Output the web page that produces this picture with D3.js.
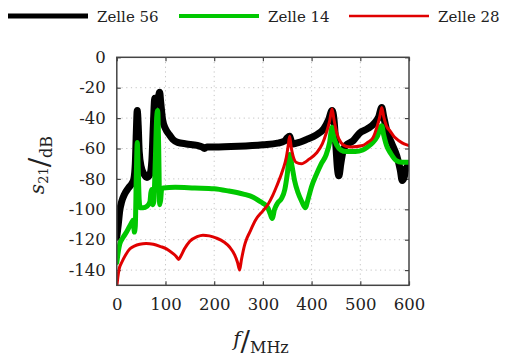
<!DOCTYPE html>
<html>
<head>
<meta charset="utf-8">
<script src="https://cdn.jsdelivr.net/npm/d3@7"></script>
<style>
  html, body { margin: 0; padding: 0; background: #fff; }
  svg { display: block; }
  svg text { font-family: "DejaVu Serif", serif; fill: #222; }
</style>
</head>
<body>
<svg id="chart" width="505" height="359"></svg>
<script>
// ---- data ----
const seriesNames = ["Zelle 56", "Zelle 14", "Zelle 28"];
const seriesColors = ["#000000", "#00c800", "#e00000"];

const freq56 = [0,3,6,10,16,24,31,35,38,40,42,44,46,50,56,62,68,72,75,78,82,85,88,90,94,100,108,115,125,143,165,175,180,185,200,250,300,330,345,350,355,358,362,369,390,410,425,435,442,446,450,453,456,460,465,470,485,498,515,530,538,544,548,555,565,575,582,586,590,594,600];
const val56  = [-118,-110,-101,-95,-90,-86,-83,-80,-70,-50,-35,-45,-62,-72,-77,-79,-77,-68,-45,-27,-30,-27,-23,-29,-41,-47,-51,-54,-56,-57,-58,-59,-60,-59,-59,-58.5,-57.5,-56.5,-55,-53,-52,-55,-57,-56.5,-54,-51,-47,-41,-35,-41,-59,-73,-78,-70,-61,-58,-55,-50,-47,-43,-39,-33,-39,-49,-57,-65,-74,-81,-79,-73,-71];

const freq14 = [0,3,6,12,20,30,34,36,38,40,42,44,46,48,54,62,68,70,72,74,76,79,82,84,86,88,90,92,95,120,160,200,230,260,280,295,300,310,315,319,324,330,338,345,350,355,360,365,372,380,387,393,400,410,420,430,437,442,446,452,460,471,490,505,515,526,535,544,548,555,562,574,585,600];
const val14  = [-135,-128,-123,-119,-115,-109,-107,-115,-111,-79,-56,-74,-94,-99,-99,-98,-95,-89,-87,-97,-95,-69,-39,-35,-59,-97,-94,-87,-86,-85.5,-86,-86.5,-88,-90,-92,-95,-96,-99,-103,-106,-100,-96,-93,-87,-77,-64,-72,-81,-89,-95,-99,-93,-85,-77,-70,-64,-56,-46,-53,-58,-61,-62,-62,-61,-59,-56,-52,-45,-51,-59,-63,-68,-69,-69];

const freq28 = [0,2,5,10,18,27,37,47,60,75,90,102,115,122,127,131,139,150,165,177,190,205,220,232,242,248,252,256,262,266,273,285,300,310,320,328,341,348,352,355,358,362,368,379,395,410,422,430,437,442,446,452,460,470,480,505,515,526,535,540,544,548,555,560,570,580,590,600];
const val28  = [-151,-145,-139,-135,-130,-126,-124,-123,-122.5,-123,-124.5,-126,-129,-131,-133,-131,-126,-121,-118,-117,-117.5,-119,-121.5,-125,-130,-135,-140,-133,-124,-120,-115,-107,-101,-97,-91,-85,-74,-66,-58,-52,-59,-65,-69,-70,-67,-63,-57,-50,-42,-34,-41,-50,-56,-58.5,-59,-58,-56,-53,-45,-39,-33,-39,-46,-48,-52.5,-55,-57,-58];

const xTicks = [0,100,200,300,400,500,600];
const yTicks = [0,-20,-40,-60,-80,-100,-120,-140];

// ---- layout ----
const FONT = "'DejaVu Serif', serif";
const svg = d3.select("#chart");
const L = 116.8, R = 409, T = 57.3, B = 285.3;
const x = d3.scaleLinear().domain([0, 600]).range([L, R]);
const y = d3.scaleLinear().domain([-150, 0]).range([B, T]);

svg.append("defs").append("clipPath").attr("id", "clip")
  .append("rect").attr("x", L).attr("y", T).attr("width", R - L).attr("height", B - T);

// grid
const grid = svg.append("g");
grid.selectAll(".gx").data(xTicks.slice(1, -1)).enter().append("line")
  .attr("x1", d => x(d)).attr("x2", d => x(d)).attr("y1", T).attr("y2", B)
  .attr("stroke", "#c4c4c4").attr("stroke-width", 1).attr("stroke-dasharray", "1.2,3.5");
grid.selectAll(".gy").data(yTicks.slice(1)).enter().append("line")
  .attr("x1", L).attr("x2", R).attr("y1", d => y(d)).attr("y2", d => y(d))
  .attr("stroke", "#c4c4c4").attr("stroke-width", 1).attr("stroke-dasharray", "1.2,3.5");

// axes (inward ticks on all sides)
const tickLen = 4;
const axB = d3.axisBottom(x).tickValues(xTicks).tickSize(-tickLen).tickPadding(13).tickFormat(d3.format("d"));
const axT = d3.axisTop(x).tickValues(xTicks).tickSize(-tickLen).tickFormat("");
const axL = d3.axisLeft(y).tickValues(yTicks).tickSize(-tickLen).tickPadding(11).tickFormat(d => String(d).replace("\u2212", "-"));
const axR = d3.axisRight(y).tickValues(yTicks).tickSize(-tickLen).tickFormat("");

function styleAxis(g) {
  g.attr("font-family", FONT);
  g.select(".domain").remove();
  g.selectAll(".tick line").attr("stroke", "#444").attr("stroke-width", 1.2);
  g.selectAll(".tick text").style("font-family", FONT).style("font-size", "16.5px").attr("fill", "#222");
}
svg.append("g").attr("transform", `translate(0,${B})`).call(axB).call(styleAxis);
svg.append("g").attr("transform", `translate(0,${T})`).call(axT).call(styleAxis);
svg.append("g").attr("transform", `translate(${L},0)`).call(axL).call(styleAxis);
svg.append("g").attr("transform", `translate(${R},0)`).call(axR).call(styleAxis);

// lines
const line = d3.line().x(d => x(d[0])).y(d => y(d[1])).curve(d3.curveMonotoneX);
const series = [
  { f: freq56, v: val56, w: 7 },
  { f: freq14, v: val14, w: 5 },
  { f: freq28, v: val28, w: 3 }
];
const plot = svg.append("g").attr("clip-path", "url(#clip)");
series.forEach((s, i) => {
  const pts = s.f.map((f, k) => [f, s.v[k]]);
  plot.append("path").datum(pts).attr("d", line)
    .attr("fill", "none").attr("stroke", seriesColors[i]).attr("stroke-width", s.w)
    .attr("stroke-linejoin", "round").attr("stroke-linecap", "round");
});

// frame
svg.append("rect").attr("x", L).attr("y", T).attr("width", R - L).attr("height", B - T)
  .attr("fill", "none").attr("stroke", "#444").attr("stroke-width", 1.5);

// legend
const legX = [8, 179, 349];
const legW = [5, 4, 2.5];
seriesNames.forEach((n, i) => {
  svg.append("line").attr("x1", legX[i]).attr("x2", legX[i] + 80).attr("y1", 16).attr("y2", 16)
    .attr("stroke", seriesColors[i]).attr("stroke-width", legW[i]);
  svg.append("text").attr("x", legX[i] + 89).attr("y", 21.5).style("font-family", FONT).style("font-size", "15px").text(n);
});

// x label: f / MHz
const xl = svg.append("text").attr("x", 261).attr("y", 350).attr("text-anchor", "middle").style("font-family", FONT);
xl.append("tspan").text("f").style("font-style", "italic").style("font-size", "20px").attr("dy", -4);
xl.append("tspan").text("/").style("font-size", "28px").attr("dy", 5);
xl.append("tspan").text("MHz").style("font-size", "16px").attr("dy", 2);

// y label: s21 / dB
const yl = svg.append("text").attr("transform", "translate(46,165) rotate(-90)").attr("text-anchor", "middle").style("font-family", FONT);
yl.append("tspan").text("s").style("font-style", "italic").style("font-size", "20px").attr("dy", -2);
yl.append("tspan").text("21").style("font-size", "13px").attr("dy", 4);
yl.append("tspan").text("/").style("font-size", "28px").attr("dy", 1);
yl.append("tspan").text("dB").style("font-size", "16px").attr("dy", 3);
</script>
</body>
</html>
